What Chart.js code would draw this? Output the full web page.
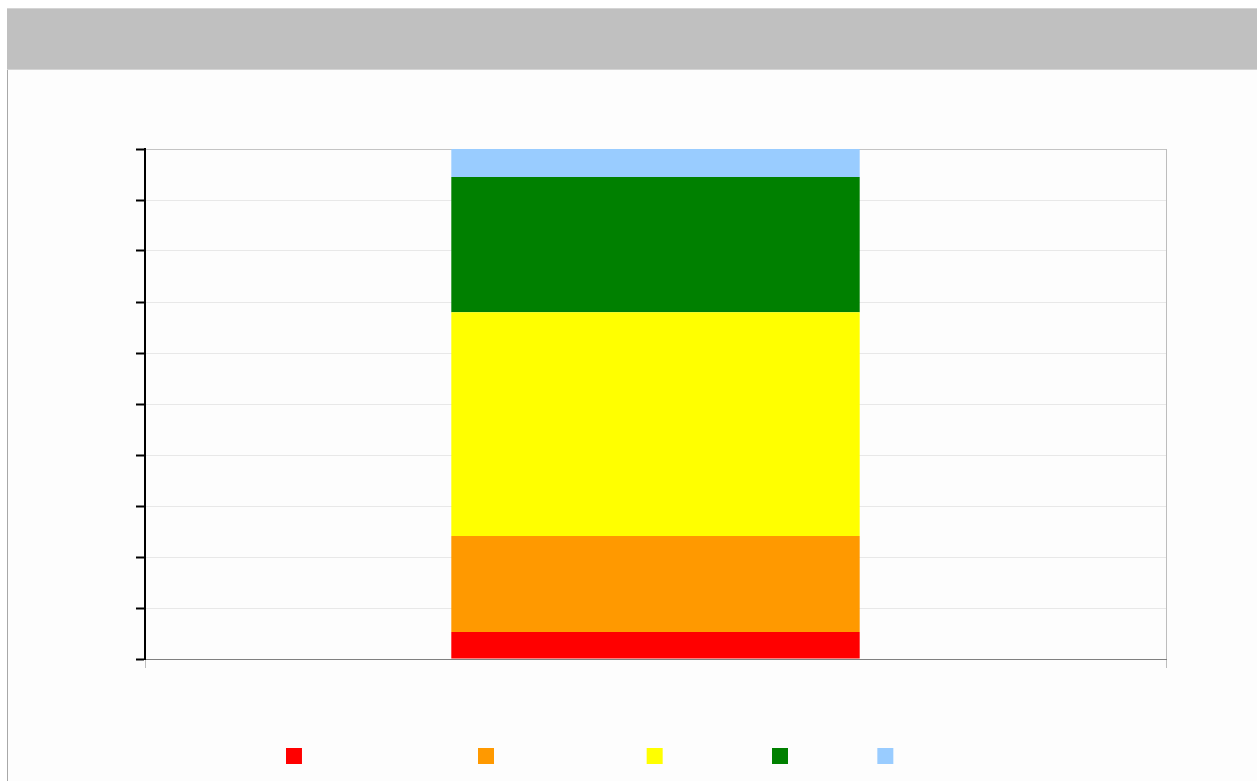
<!DOCTYPE html>
<html>
<head>
<meta charset="utf-8">
<script src="https://cdn.jsdelivr.net/npm/chart.js@4/dist/chart.umd.min.js"></script>
<style>
  html, body { margin: 0; padding: 0; background: #ffffff; }
  #frame {
    position: absolute; left: 7px; top: 8px; width: 1250px; height: 773px;
    background: #fdfdfd; border-left: 1px solid #a8a8a8; box-sizing: border-box;
  }
  #header {
    position: absolute; left: 7px; top: 8px; width: 1250px; height: 62px;
    background: #c0c0c0; border-top: 1px solid #d4d4d4; border-bottom: 1px solid #d4d4d4;
    box-sizing: border-box;
  }
  #wrap { position: absolute; left: 0; top: 0; width: 1257px; height: 781px; }
</style>
</head>
<body>
<div id="frame"></div>
<div id="header"></div>
<div id="wrap"><canvas id="chart"></canvas></div>
<script>
// one category, five stacked shares (percent of total)
const categories = [''];
const seriesNames = ['', '', '', '', ''];
const redValues = [5.3];
const orangeValues = [18.8];
const yellowValues = [43.9];
const greenValues = [26.5];
const blueValues = [5.5];
const yTicks = [0, 10, 20, 30, 40, 50, 60, 70, 80, 90, 100];

const colors = ['#ff0000', '#ff9900', '#ffff00', '#008000', '#99ccff'];
const seriesValues = [redValues, orangeValues, yellowValues, greenValues, blueValues];

// legend labels carry no visible text in the original; blank runs keep its uneven spacing
const legendTextWidths = [90, 68, 22, 3, 116];
const legendFont = { family: 'Liberation Sans', size: 12 };
const measureCtx = document.createElement('canvas').getContext('2d');
measureCtx.font = '12px "Liberation Sans"';
const spaceWidth = measureCtx.measureText(' ').width || 3.34;

const datasets = seriesValues.map((vals, i) => ({
    label: seriesNames[i],
    data: vals,
    backgroundColor: colors[i],
    borderWidth: 0,
    categoryPercentage: 0.8,
    barPercentage: 0.5,
}));

new Chart(document.getElementById('chart'), {
    type: 'bar',
    data: { labels: categories, datasets },
    options: {
        responsive: true,
        maintainAspectRatio: false,
        animation: false,
        layout: { padding: { left: 136, right: 91, top: 149, bottom: 7 } },
        scales: {
            x: {
                stacked: true,
                grid: { color: '#bdbdbd', tickColor: '#bdbdbd', tickLength: 9, drawOnChartArea: true },
                border: { color: '#808080', width: 1 },
                ticks: { display: false },
            },
            y: {
                stacked: true,
                min: 0,
                max: 100,
                afterBuildTicks: (axis) => { axis.ticks = yTicks.map(v => ({ value: v })); },
                grid: {
                    color: (ctx) => ctx.tick && ctx.tick.value === 100 ? '#c4c4c4' : '#e8e8e8',
                    tickColor: '#000000',
                    tickLength: 9,
                    tickWidth: 2,
                },
                border: { color: '#000000', width: 2 },
                ticks: { display: false },
            },
        },
        plugins: {
            tooltip: { enabled: false },
            legend: {
                position: 'bottom',
                labels: {
                    boxWidth: 16,
                    boxHeight: 16,
                    padding: 80,
                    font: legendFont,
                    generateLabels: (chart) => chart.data.datasets.map((ds, i) => ({
                        text: ds.label + ' '.repeat(Math.round(legendTextWidths[i] / spaceWidth)),
                        fillStyle: ds.backgroundColor,
                        strokeStyle: ds.backgroundColor,
                        lineWidth: 0,
                        hidden: false,
                        datasetIndex: i,
                    })),
                },
            },
        },
    },
});
</script>
</body>
</html>
